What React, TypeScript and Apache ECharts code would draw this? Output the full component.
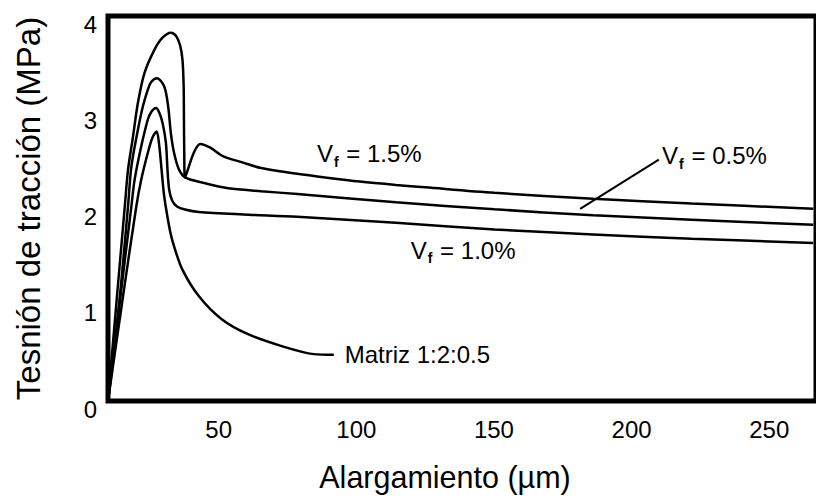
import React, { useEffect, useRef } from 'react';
import * as echarts from 'echarts';

const FONT = '"Liberation Sans", Arial, Helvetica, sans-serif';
const INK = '#000000';

// Axis ticks
const xTickValues = [50, 100, 150, 200, 250];
const yTickValues = [0, 1, 2, 3, 4];

// Vf = 1.5 %
const strainVf15 = [9.8, 12.97, 15.9, 17.08, 18.88, 20.67, 23.07, 26.65, 29.51, 32.63, 34.53, 35.96, 36.86, 37.29, 37.39, 37.5, 37.75, 40.97, 43.37, 46.96, 51.72, 58.88, 65.44, 78.58, 89.33, 101.3, 114.4, 125.1, 150.2, 186.0, 221.8, 266];
const stressVf15 = [0, 1.057, 2.021, 2.404, 2.746, 3.098, 3.409, 3.648, 3.772, 3.827, 3.793, 3.699, 3.544, 3.264, 2.922, 2.58, 2.321, 2.58, 2.67, 2.632, 2.542, 2.477, 2.42, 2.36, 2.32, 2.28, 2.245, 2.22, 2.163, 2.101, 2.052, 1.997];

// Vf = 0.5 %
const strainVf05 = [9.8, 14.0, 17.08, 18.3, 20.67, 22.46, 24.25, 25.57, 27.61, 30.23, 31.66, 32.63, 33.81, 35.6, 38.0, 44.56, 53.51, 65.44, 78.58, 114.4, 150.2, 186.0, 221.8, 266];
const stressVf05 = [0, 1.057, 2.024, 2.438, 2.819, 3.06, 3.233, 3.316, 3.354, 3.267, 3.06, 2.784, 2.577, 2.404, 2.321, 2.266, 2.21, 2.18, 2.15, 2.065, 1.992, 1.93, 1.883, 1.831];

// Vf = 1.0 %
const strainVf10 = [9.8, 14.2, 18.3, 19.48, 21.88, 24.25, 25.57, 27.26, 28.44, 29.62, 30.84, 31.41, 32.02, 33.09, 34.88, 37.75, 42.77, 58.88, 78.58, 114.4, 150.2, 186.0, 221.8, 266];
const stressVf10 = [0, 1.057, 2.024, 2.301, 2.646, 2.922, 3.005, 3.044, 2.995, 2.888, 2.681, 2.404, 2.197, 2.083, 2.021, 1.99, 1.964, 1.938, 1.914, 1.852, 1.782, 1.731, 1.686, 1.642];

// Matriz 1:2:0.5
const strainMatrix = [9.8, 15.1, 20.09, 21.88, 24.25, 25.93, 27.47, 28.44, 29.26, 30.05, 30.95, 32.38, 33.81, 36.78, 42.77, 51.11, 60.67, 72.6, 84.56, 91.83];
const stressMatrix = [0, 1.057, 2.024, 2.301, 2.577, 2.736, 2.801, 2.646, 2.404, 2.166, 1.99, 1.762, 1.606, 1.368, 1.091, 0.85, 0.694, 0.573, 0.487, 0.48];

// Leader line for the Vf = 0.5 % label
const leaderStrain = [181.3, 209.9];
const leaderStress = [1.997, 2.508];

// Annotation labels (anchor = left edge, vertical middle)
const annotationNames = ['1.5%', '0.5%', '1.0%'];
const annotationStrain = [85.7, 211.1, 119.8];
const annotationStress = [2.57, 2.549, 1.565];
const matrixLabel = 'Matriz 1:2:0.5';
const matrixLabelStrain = 95.8;
const matrixLabelStress = 0.487;

const zip = (xs: number[], ys: number[]) => xs.map((x, i) => [x, ys[i]]);

const curve = (name: string, xs: number[], ys: number[]) => ({
  name,
  type: 'line',
  data: zip(xs, ys),
  showSymbol: false,
  smooth: 0.3,
  lineStyle: { color: INK, width: 2.5 },
  z: 3,
});

export default function App() {
  const ref = useRef<HTMLDivElement>(null);

  useEffect(() => {
    if (!ref.current) return;
    const chart = echarts.init(ref.current, null, { renderer: 'svg' });

    const option = {
      animation: false,
      backgroundColor: '#ffffff',
      grid: {
        left: 108,
        top: 16,
        right: -10,
        bottom: 95,
        show: true,
        borderColor: '#000000',
        borderWidth: 5,
        backgroundColor: 'transparent',
      },
      xAxis: {
        type: 'value',
        min: 9.8,
        max: 267,
        name: 'Alargamiento (µm)',
        nameLocation: 'middle',
        nameGap: 60,
        nameTextStyle: { fontFamily: FONT, fontSize: 30.5, color: INK, padding: [0, 34, 0, 0] },
        axisLine: { show: false },
        axisTick: { show: false },
        splitLine: { show: false },
        axisLabel: {
          customValues: xTickValues,
          fontFamily: FONT,
          fontSize: 24,
          color: INK,
          margin: 16,
        },
      },
      yAxis: {
        type: 'value',
        min: 0,
        max: 4,
        interval: 1,
        name: 'Tesnión de tracción (MPa)',
        nameLocation: 'middle',
        nameGap: 63,
        nameTextStyle: { fontFamily: FONT, fontSize: 33, color: INK },
        axisLine: { show: false },
        axisTick: { show: false },
        splitLine: { show: false },
        axisLabel: {
          customValues: yTickValues,
          fontFamily: FONT,
          fontSize: 24,
          color: INK,
          margin: 11,
          verticalAlign: 'top',
          lineHeight: 16,
        },
      },
      series: [
        curve('Vf = 1.5%', strainVf15, stressVf15),
        curve('Vf = 0.5%', strainVf05, stressVf05),
        curve('Vf = 1.0%', strainVf10, stressVf10),
        curve('Matriz 1:2:0.5', strainMatrix, stressMatrix),
        {
          name: 'leader',
          type: 'line',
          data: zip(leaderStrain, leaderStress),
          showSymbol: false,
          lineStyle: { color: INK, width: 2 },
          z: 3,
        },
        {
          name: 'labels',
          type: 'scatter',
          symbolSize: 0,
          itemStyle: { opacity: 1, color: INK },
          data: [
            ...annotationNames.map((n, i) => ({
              value: [annotationStrain[i], annotationStress[i]],
              label: { formatter: `{v|V}{s|f}{v| = ${n}}` },
            })),
            {
              value: [matrixLabelStrain, matrixLabelStress],
              label: { formatter: `{m|${matrixLabel}}` },
            },
          ],
          label: {
            show: true,
            position: 'right',
            distance: 0,
            color: INK,
            opacity: 1,
            rich: {
              v: { fontFamily: FONT, fontSize: 24, lineHeight: 30, color: INK },
              s: {
                fontFamily: FONT,
                fontSize: 14,
                lineHeight: 14,
                fontWeight: 'bold',
                verticalAlign: 'bottom',
                color: INK,
                padding: [0, 1, 0, 1],
              },
              m: { fontFamily: FONT, fontSize: 24, lineHeight: 30, color: INK },
            },
          },
          z: 4,
        },
      ],
    };

    chart.setOption(option as any);
    return () => chart.dispose();
  }, []);

  return (
    <div
      ref={ref}
      style={{ position: 'fixed', left: 0, top: 0, width: 816, height: 497, background: '#fff' }}
    />
  );
}
